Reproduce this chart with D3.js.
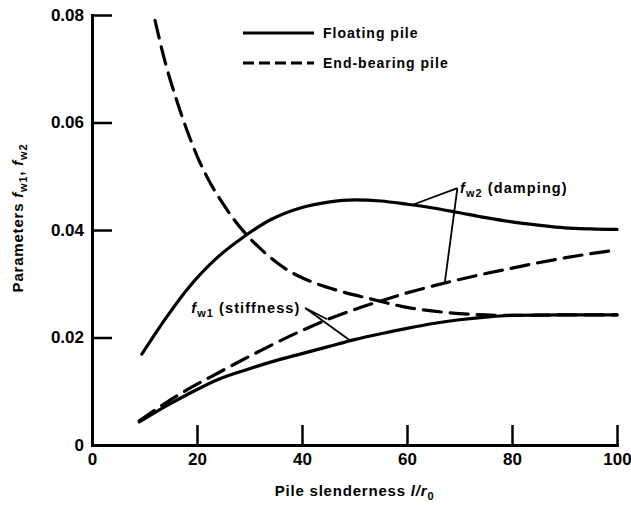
<!DOCTYPE html>
<html>
<head>
<meta charset="utf-8">
<script src="https://cdn.jsdelivr.net/npm/d3@7"></script>
<style>
  body { margin: 0; background: #fff; }
  svg { display: block; font-family: "Liberation Sans", Arial, sans-serif; }
  .tick text { font-size: 17px; font-weight: bold; fill: #000; }
</style>
</head>
<body>
<div id="chart"></div>
<script>
// tick values
var xTicks = [0, 20, 40, 60, 80, 100];
var yTicks = [0, 0.02, 0.04, 0.06, 0.08];

// floating pile, damping f_w2
var floatDampX = [9.5, 14, 18, 24, 29, 34, 40, 45, 50, 55, 60, 65, 70, 75, 80, 85, 90, 95, 100];
var floatDampY = [0.0169, 0.0235, 0.0288, 0.0350, 0.0388, 0.0419, 0.0442, 0.0452, 0.0456, 0.0454, 0.0448, 0.0441, 0.0432, 0.0423, 0.0415, 0.0409, 0.0404, 0.0402, 0.0401];

// floating pile, stiffness f_w1
var floatStiffX = [9, 14, 18, 24, 30, 35, 40, 45, 50, 55, 60, 65, 70, 75, 80, 90, 100];
var floatStiffY = [0.0043, 0.0072, 0.0093, 0.0122, 0.0142, 0.0157, 0.0170, 0.0183, 0.0196, 0.0207, 0.0217, 0.0226, 0.0233, 0.0238, 0.0241, 0.0242, 0.0242];

// end-bearing pile, damping f_w2
var endDampX = [12, 14, 16, 18, 20, 22, 25, 29, 33, 37, 42, 47, 53, 59, 67, 75, 80, 90, 100];
var endDampY = [0.0790, 0.0710, 0.0645, 0.0588, 0.0538, 0.0497, 0.0448, 0.0396, 0.0357, 0.0327, 0.0303, 0.0287, 0.0272, 0.0258, 0.0247, 0.0242, 0.0241, 0.0242, 0.0242];

// end-bearing pile, stiffness f_w1
var endStiffX = [9, 14, 18, 24, 29, 34, 40, 45, 50, 55, 60, 65, 70, 75, 80, 85, 90, 95, 100];
var endStiffY = [0.0045, 0.0078, 0.0102, 0.0134, 0.0160, 0.0185, 0.0213, 0.0234, 0.0252, 0.0268, 0.0283, 0.0296, 0.0308, 0.0319, 0.0329, 0.0339, 0.0348, 0.0356, 0.0363];

var width = 631, height = 505;
var offsets = { left: 92, right: 14, top: 15, bottom: 60 };
var plotW = width - offsets.left - offsets.right;
var plotH = height - offsets.top - offsets.bottom;

var svg = d3.select('#chart').append('svg').attr('width', width).attr('height', height);
svg.append('rect').attr('width', width).attr('height', height).attr('fill', '#fff');
var g = svg.append('g').attr('transform', 'translate(' + offsets.left + ',' + offsets.top + ')');

var x = d3.scaleLinear().domain([0, 100]).range([0, plotW]);
var y = d3.scaleLinear().domain([0, 0.08]).range([plotH, 0]);

// axes, ticks pointing inward
var xAxis = g.append('g').attr('transform', 'translate(0,' + plotH + ')')
    .call(d3.axisBottom(x).tickValues(xTicks).tickSizeInner(-20).tickSizeOuter(0).tickPadding(8).tickFormat(d3.format('d')));
var yAxis = g.append('g')
    .call(d3.axisLeft(y).tickValues(yTicks).tickSizeInner(-20).tickSizeOuter(0).tickPadding(8)
        .tickFormat(function(d) { return d === 0 ? '0' : d.toFixed(2); }));
[xAxis, yAxis].forEach(function(a) {
    a.select('.domain').attr('stroke', '#000').attr('stroke-width', 3).attr('stroke-linecap', 'square');
    a.selectAll('.tick line').attr('stroke', '#000').attr('stroke-width', 2.5);
});

// curves
var line = d3.line().x(function(d) { return x(d[0]); }).y(function(d) { return y(d[1]); }).curve(d3.curveMonotoneX);
var series = [
    { xs: floatDampX, ys: floatDampY, dash: null },
    { xs: floatStiffX, ys: floatStiffY, dash: null },
    { xs: endDampX, ys: endDampY, dash: '18,9' },
    { xs: endStiffX, ys: endStiffY, dash: '18,9' }
];
series.forEach(function(s) {
    var pts = s.xs.map(function(v, i) { return [v, s.ys[i]]; });
    g.append('path').datum(pts).attr('d', line)
        .attr('fill', 'none').attr('stroke', '#000').attr('stroke-width', 3.2)
        .attr('stroke-linecap', 'round')
        .attr('stroke-dasharray', s.dash);
});

// leader lines (data coordinates)
var leaders = [
    [[69.6, 0.0478], [61.1, 0.0447]],
    [[69.6, 0.0478], [67.2, 0.0302]],
    [[40.6, 0.0255], [44.8, 0.0234]],
    [[40.6, 0.0255], [49.1, 0.0195]]
];
leaders.forEach(function(l) {
    g.append('line').attr('x1', x(l[0][0])).attr('y1', y(l[0][1]))
        .attr('x2', x(l[1][0])).attr('y2', y(l[1][1]))
        .attr('stroke', '#000').attr('stroke-width', 1.8);
});

function label(parent, px, py, anchor, sub, rest, size) {
    var t = parent.append('text').attr('x', px).attr('y', py).attr('text-anchor', anchor)
        .attr('font-size', size).attr('font-weight', 'bold').attr('fill', '#000')
        .attr('letter-spacing', 1.1);
    t.append('tspan').attr('font-style', 'italic').text('f');
    t.append('tspan').attr('font-size', size * 0.75).attr('dy', 4).text(sub);
    t.append('tspan').attr('dy', -4).text(rest);
    return t;
}
label(g, x(70.1), y(0.0469), 'start', 'w2', ' (damping)', 14.5);
label(g, x(39.7), y(0.0245), 'end', 'w1', ' (stiffness)', 14.5);

// legend
var legend = svg.append('g').attr('transform', 'translate(243,0)');
[['Floating pile', null, 33], ['End-bearing pile', '11,5', 63]].forEach(function(r) {
    legend.append('line').attr('x1', 0).attr('x2', 71).attr('y1', r[2]).attr('y2', r[2])
        .attr('stroke', '#000').attr('stroke-width', 3.2).attr('stroke-dasharray', r[1]);
    legend.append('text').attr('x', 80).attr('y', r[2] + 5).attr('font-size', 14).attr('font-weight', 'bold')
        .attr('letter-spacing', 1).text(r[0]);
});

// axis titles
var xt = svg.append('text').attr('x', offsets.left + plotW / 2).attr('y', 496).attr('text-anchor', 'middle')
    .attr('font-size', 15).attr('font-weight', 'bold').attr('letter-spacing', 0.8);
xt.append('tspan').text('Pile slenderness ');
xt.append('tspan').attr('font-style', 'italic').text('l/r');
xt.append('tspan').attr('font-size', 11).attr('dy', 4).text('0');

var yt = svg.append('text').attr('transform', 'translate(23,218) rotate(-90)').attr('text-anchor', 'middle')
    .attr('font-size', 15).attr('font-weight', 'bold').attr('letter-spacing', 0.8);
yt.append('tspan').text('Parameters ');
yt.append('tspan').attr('font-style', 'italic').text('f');
yt.append('tspan').attr('font-size', 11).attr('dy', 4).text('w1');
yt.append('tspan').attr('dy', -4).text(', ');
yt.append('tspan').attr('font-style', 'italic').text('f');
yt.append('tspan').attr('font-size', 11).attr('dy', 4).text('w2');
</script>
</body>
</html>
